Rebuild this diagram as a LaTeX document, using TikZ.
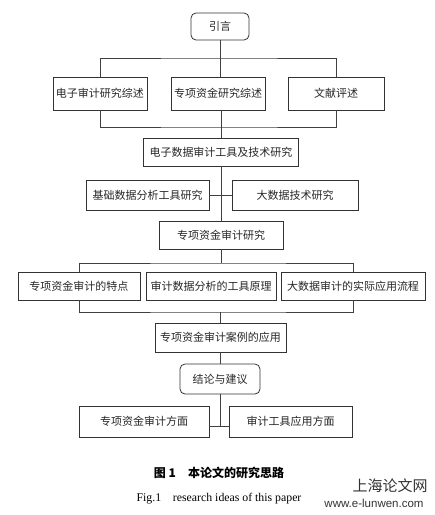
\documentclass[tikz,border=0pt]{standalone}
\usepackage{fontspec}
\setmainfont{Liberation Serif}
\newfontfamily\cjk{Noto Sans CJK SC}
\newfontfamily\wmfont{Liberation Sans}
\usetikzlibrary{positioning}

\tikzset{
  stagebox/.style={draw=black!80, line width=0.8pt, inner sep=0pt, text=black!85,
    font=\cjk\fontsize{11}{13}\selectfont},
  endbox/.style={stagebox, rounded corners=5pt},
  link/.style={draw=black!75, line width=0.7pt},
}

\begin{document}
\begin{tikzpicture}[x=1pt,y=-1pt]
\useasboundingbox (0,0) rectangle (435,515);
% 研究思路各阶段
\node[endbox, minimum width=58pt, minimum height=27pt] (intro) at (220,26.5) {引言};
\node[stagebox, minimum width=94pt, minimum height=33pt] (eaudit) at (100,93.5) {电子审计研究综述};
\node[stagebox, minimum width=94pt, minimum height=33pt] (fundrev) at (218,93.5) {专项资金研究综述};
\node[stagebox, minimum width=96pt, minimum height=33pt] (litrev) at (336,93.5) {文献评述};
\node[stagebox, minimum width=155pt, minimum height=28pt] (tools) at (221,152) {电子数据审计工具及技术研究};
\node[stagebox, minimum width=123pt, minimum height=30pt] (basic) at (147.5,195) {基础数据分析工具研究};
\node[stagebox, minimum width=126pt, minimum height=30pt] (bigdata) at (295,195) {大数据技术研究};
\node[stagebox, minimum width=124pt, minimum height=28pt] (fundaudit) at (221,235) {专项资金审计研究};
\node[stagebox, minimum width=122pt, minimum height=28pt] (feat) at (79,286) {专项资金审计的特点};
\node[stagebox, minimum width=130pt, minimum height=28pt] (principle) at (211,286) {审计数据分析的工具原理};
\node[stagebox, minimum width=144pt, minimum height=28pt] (flow) at (353,286) {大数据审计的实际应用流程};
\node[stagebox, minimum width=131pt, minimum height=29pt] (case) at (220.5,337.5) {专项资金审计案例的应用};
\node[endbox, minimum width=80pt, minimum height=30pt] (concl) at (220,379) {结论与建议};
\node[stagebox, minimum width=130pt, minimum height=31pt] (aspfund) at (144,421.5) {专项资金审计方面};
\node[stagebox, minimum width=123pt, minimum height=31pt] (asptool) at (290.5,421.5) {审计工具应用方面};

% 汇总线
\coordinate (topbus) at (220,58);
\coordinate (revbus) at (220,127);
\coordinate (midbus) at (220,263);
\coordinate (lowbus) at (220,312);
\coordinate (endbus) at (220,426);

\draw[link] (intro.south) -- (intro.south |- fundrev.north);
\draw[link] (eaudit.north) |- (topbus) -| (litrev.north);
\draw[link] (eaudit.south) |- (revbus) -| (litrev.south);
\draw[link] (tools.north |- fundrev.south) -- (tools.north);
\draw[link] (tools.south) -- (fundaudit.north);
\draw[link] (basic.east) -- (bigdata.west);
\draw[link] (fundaudit.south) -- (fundaudit.south |- midbus);
\draw[link] (feat.north) |- (midbus) -| (flow.north);
\draw[link] (feat.south) |- (lowbus) -| (flow.south);
\draw[link] (case.north |- lowbus) -- (case.north);
\draw[link] (case.south) -- (case.south |- concl.north);
\draw[link] (concl.south) -- (concl.south |- endbus);
\draw[link] (aspfund.east |- endbus) -- (asptool.west |- endbus);

% 图题
\node[font=\cjk\bfseries\fontsize{12}{14}\selectfont] (captioncn) at (219,473) {图 1\quad 本论文的研究思路};
\node[font=\fontsize{11.8}{13}\selectfont] (captionen) at (219,499) {Fig.1\quad research ideas of this paper};
\node[font=\cjk\fontsize{15}{17}\selectfont, text=black!80] (wmcn) at (390,486) {上海论文网};
\node[font=\wmfont\fontsize{11.5}{13}\selectfont, text=black!80] (wmurl) at (374,503) {www.e-lunwen.com};
\end{tikzpicture}
\end{document}
